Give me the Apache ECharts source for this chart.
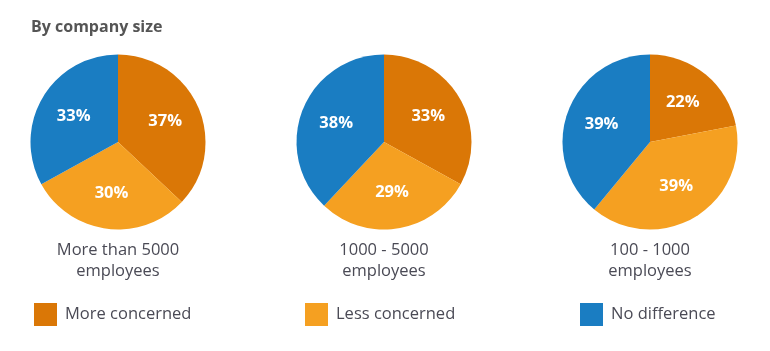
<!DOCTYPE html>
<html>
<head>
<meta charset="utf-8">
<script src="https://cdn.jsdelivr.net/npm/echarts@6/dist/echarts.min.js"></script>
<style>
    html, body { margin: 0; padding: 0; background: #fff; }
    #chart { width: 770px; height: 351px; }
</style>
</head>
<body>
<div id="chart"></div>
<script>
// answer categories (legend order)
const answers = ['More concerned', 'Less concerned', 'No difference'];
const groups = ['More than 5000\nemployees', '1000 - 5000\nemployees', '100 - 1000\nemployees'];
// share of respondents (%) per company size
const over5000 = [37, 30, 33];
const from1000to5000 = [33, 29, 38];
const from100to1000 = [22, 39, 39];

const colors = ['#DA7706', '#F5A021', '#1A7DC2'];
const centersX = [118, 384, 650];
const centerY = 142;
const font = '"Open Sans", "Noto Sans", sans-serif';

const chart = echarts.init(document.getElementById('chart'));

const makePie = (values, i) => ({
    type: 'pie',
    center: [centersX[i], centerY],
    radius: [0, 87.5],
    startAngle: 90,
    clockwise: true,
    silent: true,
    label: {
        show: true,
        position: 'inside',
        formatter: '{c}%',
        color: '#fff',
        fontFamily: font,
        fontWeight: 'bold',
        fontSize: 16.5
    },
    // push the percentages a little further out than half radius
    labelLayout: (p) => {
        const r = p.labelRect;
        const cx = r.x + r.width / 2;
        const cy = r.y + r.height / 2;
        const ox = centersX[p.seriesIndex];
        return {
            x: ox + (cx - ox) * 1.1,
            y: centerY + (cy - centerY) * 1.1
        };
    },
    labelLine: { show: false },
    itemStyle: { borderWidth: 0 },
    data: values.map((v, j) => ({ name: answers[j], value: v }))
});

const legendLeft = [34, 305, 580];

const option = {
    color: colors,
    animation: false,
    title: [
        {
            text: 'By company size',
            left: 31,
            top: 19,
            padding: 0,
            textStyle: { fontFamily: font, fontSize: 16, fontWeight: 'bold', color: '#555555' }
        }
    ].concat(groups.map((g, i) => ({
        text: g,
        left: centersX[i],
        top: 240,
        padding: 0,
        textAlign: 'center',
        textStyle: { fontFamily: font, fontSize: 16.5, fontWeight: 'normal', color: '#4a4a55', lineHeight: 21 }
    }))),
    legend: answers.map((a, i) => ({
        data: [a],
        left: legendLeft[i],
        top: 303,
        padding: 0,
        icon: 'rect',
        itemWidth: 23,
        itemHeight: 23,
        itemGap: 8,
        selectedMode: false,
        textStyle: { fontFamily: font, fontSize: 16.5, color: '#4a4a55', padding: [0, 0, 0, 3] }
    })),
    series: [over5000, from1000to5000, from100to1000].map(makePie)
};

chart.setOption(option);
</script>
</body>
</html>
